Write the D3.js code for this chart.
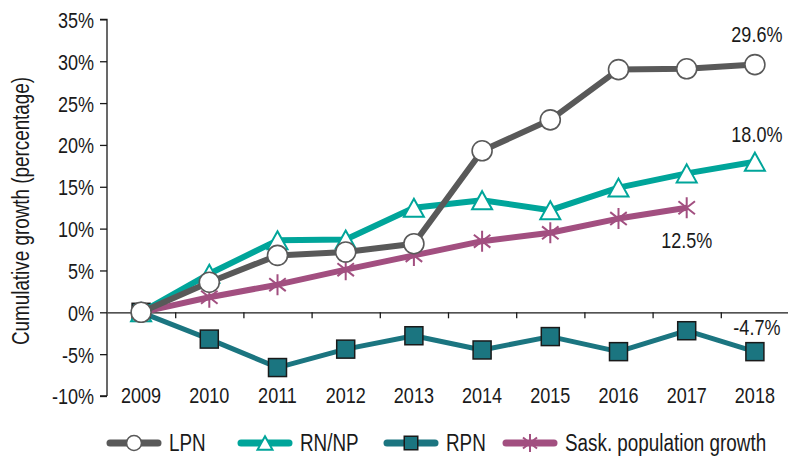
<!DOCTYPE html>
<html>
<head>
<meta charset="utf-8">
<script src="https://cdn.jsdelivr.net/npm/d3@7"></script>
<style>
  body { margin: 0; background: #fff; }
  text { font-family: "Liberation Sans", Arial, sans-serif; fill: #1a1a1a; }
</style>
</head>
<body>
<div id="chart"></div>
<script>
// ---------- data ----------
var years = ["2009", "2010", "2011", "2012", "2013", "2014", "2015", "2016", "2017", "2018"];
var lpn  = [0, 3.6, 6.8, 7.2, 8.2, 19.3, 23.0, 29.0, 29.1, 29.6];
var rnnp = [0, 4.6, 8.6, 8.7, 12.5, 13.4, 12.2, 14.9, 16.6, 18.0];
var rpn  = [0, -3.2, -6.6, -4.4, -2.8, -4.5, -2.9, -4.7, -2.2, -4.7];
var sask = [0, 1.8, 3.3, 5.1, 6.8, 8.5, 9.5, 11.2, 12.5];
var yTicks = [-10, -5, 0, 5, 10, 15, 20, 25, 30, 35];

var series = [
  {name: "Sask. population growth", values: sask, color: "#a24f80", marker: "star", width: 6},
  {name: "RPN", values: rpn, color: "#1b7580", marker: "square", width: 5},
  {name: "RN/NP", values: rnnp, color: "#00a59a", marker: "triangle", width: 6},
  {name: "LPN", values: lpn, color: "#595959", marker: "circle", width: 6}
];
var legendOrder = ["LPN", "RN/NP", "RPN", "Sask. population growth"];

// end-of-line labels: [series, index, text]
var endLabels = [
  ["LPN", 9, "29.6%"],
  ["RN/NP", 9, "18.0%"],
  ["Sask. population growth", 8, "12.5%"],
  ["RPN", 9, "-4.7%"]
];

// ---------- setup ----------
var svgWidth = 788, svgHeight = 457;
var plotLeft = 107, plotRight = 789, plotTop = 19.4, plotBottom = 396;
var squeeze = 0.82; // the original uses a narrow face; squeeze the regular one

var svg = d3.select("#chart").append("svg")
  .attr("width", svgWidth).attr("height", svgHeight);

var x = d3.scaleBand().domain(years).range([plotLeft, plotRight]);
var y = d3.scaleLinear().domain([-10, 35]).range([plotBottom, plotTop]);
var cx = function(i) { return x(years[i]) + x.bandwidth() / 2; };

// move x/y into a transform so the text can be squeezed horizontally
function narrow(sel) {
  sel.each(function() {
    var t = d3.select(this);
    var xx = +t.attr("x") || 0, yy = +t.attr("y") || 0;
    t.attr("x", 0).attr("y", 0)
      .attr("transform", "translate(" + xx + "," + yy + ") scale(" + squeeze + ",1)");
  });
}

// y axis
var yAxis = d3.axisLeft(y).tickValues(yTicks).tickSize(7).tickPadding(6)
  .tickFormat(function(d) { return d + "%"; });
var gy = svg.append("g").attr("transform", "translate(" + plotLeft + ",0)").call(yAxis);
gy.selectAll("path, line").attr("stroke", "#1a1a1a").attr("stroke-width", 1.3);
gy.select(".domain").attr("d", "M0," + plotBottom + "V" + plotTop + "H-7M0," + plotBottom + "H-7");
gy.selectAll("text").attr("font-size", "22px").style("font-family", null).attr("dy", "0.36em")
  .attr("fill", "#1a1a1a").call(narrow);

// zero line with ticks between categories
var xb = d3.scaleLinear().domain([0, years.length]).range([plotLeft, plotRight]);
var gx = svg.append("g").attr("transform", "translate(0," + y(0) + ")")
  .call(d3.axisBottom(xb).tickValues(d3.range(1, years.length + 1)).tickSize(6).tickSizeOuter(0).tickFormat(""));
gx.selectAll("path, line").attr("stroke", "#1a1a1a").attr("stroke-width", 1.3);

// category labels at the bottom
svg.append("g").selectAll("text").data(years).enter().append("text")
  .attr("x", function(d) { return x(d) + x.bandwidth() / 2; })
  .attr("y", 403)
  .attr("text-anchor", "middle")
  .attr("font-size", "22px")
  .text(function(d) { return d; })
  .call(narrow);

// y title
svg.append("text")
  .attr("transform", "translate(29,211) rotate(-90) scale(" + squeeze + ",1)")
  .attr("text-anchor", "middle")
  .attr("font-size", "23px")
  .text("Cumulative growth (percentage)");

// ---------- markers ----------
function drawMarker(g, type, color, px, py, s) {
  if (type === "circle") {
    g.append("circle").attr("cx", px).attr("cy", py).attr("r", 10 * s)
      .attr("fill", "#fff").attr("stroke", color).attr("stroke-width", 1.6);
  } else if (type === "triangle") {
    var h = 9 * s, w = 10 * s;
    g.append("path")
      .attr("d", "M" + px + "," + (py - h) + "L" + (px + w) + "," + (py + h) + "L" + (px - w) + "," + (py + h) + "Z")
      .attr("fill", "#fff").attr("stroke", color).attr("stroke-width", 2);
  } else if (type === "square") {
    var a = 9 * s;
    g.append("rect").attr("x", px - a).attr("y", py - a).attr("width", 2 * a).attr("height", 2 * a)
      .attr("fill", color).attr("stroke", "#1a1a1a").attr("stroke-width", 1.5);
  } else if (type === "star") {
    var r = 10.5 * s, d = "";
    [90, 38, -38].forEach(function(ang) {
      var t = ang * Math.PI / 180;
      d += "M" + (px - r * Math.cos(t)) + "," + (py - r * Math.sin(t)) + "L" + (px + r * Math.cos(t)) + "," + (py + r * Math.sin(t));
    });
    g.append("path").attr("d", d).attr("stroke", color).attr("stroke-width", 2).attr("fill", "none");
  }
}

// ---------- lines ----------
var line = d3.line().x(function(d, i) { return cx(i); }).y(function(d) { return y(d); });

series.forEach(function(s) {
  var g = svg.append("g");
  g.append("path").datum(s.values).attr("d", line)
    .attr("fill", "none").attr("stroke", s.color).attr("stroke-width", s.width)
    .attr("stroke-linejoin", "round");
  s.values.forEach(function(v, i) { drawMarker(g, s.marker, s.color, cx(i), y(v), 1); });
});

// ---------- end labels ----------
var labelOffset = {"LPN": [2, -23], "RN/NP": [2, -20], "Sask. population growth": [0, 40], "RPN": [2, -17]};
endLabels.forEach(function(l) {
  var s = series.find(function(d) { return d.name === l[0]; });
  svg.append("text")
    .attr("x", cx(l[1]) + labelOffset[l[0]][0])
    .attr("y", y(s.values[l[1]]) + labelOffset[l[0]][1])
    .attr("text-anchor", "middle")
    .attr("font-size", "22px")
    .text(l[2])
    .call(narrow);
});

// ---------- legend ----------
var legendX = {"LPN": 110, "RN/NP": 241, "RPN": 387, "Sask. population growth": 506};
var legendY = 443;
legendOrder.forEach(function(name) {
  var s = series.find(function(d) { return d.name === name; });
  var g = svg.append("g");
  var x0 = legendX[name];
  g.append("line").attr("x1", x0).attr("x2", x0 + 48).attr("y1", legendY).attr("y2", legendY)
    .attr("stroke", s.color).attr("stroke-width", 7).attr("stroke-linecap", "round");
  drawMarker(g, s.marker, s.color, x0 + 24, legendY, s.marker === "star" ? 0.85 : 0.75);
  g.append("text").attr("x", x0 + 59).attr("y", legendY + 8)
    .attr("font-size", "23px").text(name)
    .call(narrow);
});
</script>
</body>
</html>
